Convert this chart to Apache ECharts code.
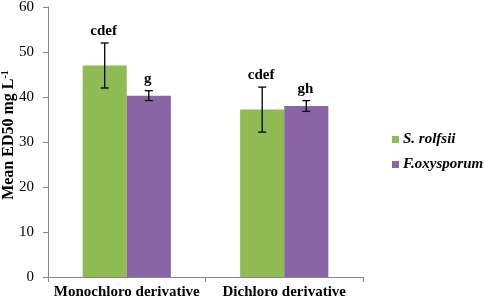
<!DOCTYPE html>
<html>
<head>
<meta charset="utf-8">
<script src="https://cdn.jsdelivr.net/npm/echarts@6/dist/echarts.min.js"></script>
<style>
  html, body { margin: 0; padding: 0; background: #fff; }
  #main { width: 484px; height: 301px; }
</style>
</head>
<body>
<div id="main"></div>
<script>
var categories = ['Monochloro derivative', 'Dichloro derivative'];
var rolfsii = [47.0, 37.2];
var rolfsiiErr = [5.0, 5.0];
var oxysporum = [40.3, 38.0];
var oxysporumErr = [1.1, 1.2];
var rolfsiiLetters = ['cdef', 'cdef'];
var oxysporumLetters = ['g', 'gh'];
var yTicks = { min: 0, max: 60, interval: 10 };

var SERIF = '"Liberation Serif", "Times New Roman", serif';
var BAR_FRAC = 0.28;

// error bar + significance letter drawn on top of each bar
function errorBars(sign, letters) {
  return function (params, api) {
    var i = api.value(0);
    var m = api.value(1);
    var e = api.value(2);
    var band = api.size([1, 0])[0];
    var x = api.coord([i, m])[0] + sign * band * BAR_FRAC / 2;
    var top = api.coord([i, m + e])[1];
    var bot = api.coord([i, m - e])[1];
    var cap = 4;
    var st = { stroke: '#000', lineWidth: 1.3 };
    return {
      type: 'group',
      children: [
        { type: 'line', shape: { x1: x, y1: top, x2: x, y2: bot }, style: st },
        { type: 'line', shape: { x1: x - cap, y1: top, x2: x + cap, y2: top }, style: st },
        { type: 'line', shape: { x1: x - cap, y1: bot, x2: x + cap, y2: bot }, style: st },
        {
          type: 'text',
          style: {
            text: letters[i], x: x - 1, y: top - 4,
            align: 'center', verticalAlign: 'bottom',
            font: 'bold 15px ' + SERIF, fill: '#000'
          }
        }
      ]
    };
  };
}

function errData(vals, errs) {
  return vals.map(function (v, i) { return [i, v, errs[i]]; });
}

var chart = echarts.init(document.getElementById('main'), null, { renderer: 'canvas' });

chart.setOption({
  animation: false,
  grid: { left: 48, right: 121, top: 7, bottom: 24, outerBoundsMode: 'none', containLabel: false },
  legend: {
    data: ['S. rolfsii', 'F.oxysporum'],
    orient: 'vertical',
    left: 387,
    top: 127,
    icon: 'rect',
    itemWidth: 7,
    itemHeight: 7,
    itemGap: 10,
    textStyle: { fontFamily: SERIF, fontSize: 15, fontWeight: 'bold', fontStyle: 'italic', color: '#000', padding: [0, 0, 0, -1] }
  },
  xAxis: {
    type: 'category',
    data: categories,
    axisLine: { lineStyle: { color: '#888', width: 1 } },
    axisTick: { show: true, length: 5, lineStyle: { color: '#888' } },
    axisLabel: { interval: 0, fontFamily: SERIF, fontSize: 15, fontWeight: 'bold', color: '#000', margin: 8 }
  },
  yAxis: {
    type: 'value',
    min: yTicks.min,
    max: yTicks.max,
    interval: yTicks.interval,
    name: 'Mean ED50 mg L{sup|-1}',
    nameLocation: 'middle',
    nameGap: 30,
    nameMoveOverlap: false,
    nameTextStyle: {
      fontFamily: SERIF, fontSize: 16, fontWeight: 'bold', color: '#000',
      padding: [0, 0, 0, 14],
      rich: { sup: { fontFamily: SERIF, fontSize: 10, fontWeight: 'bold', color: '#000', verticalAlign: 'top', padding: [0, 0, 8, 0] } }
    },
    splitLine: { show: false },
    axisLine: { show: true, lineStyle: { color: '#888', width: 1 } },
    axisTick: { show: true, length: 5, lineStyle: { color: '#888' } },
    axisLabel: { fontFamily: SERIF, fontSize: 15, color: '#000', margin: 14 }
  },
  series: [
    {
      name: 'S. rolfsii', type: 'bar', data: rolfsii,
      barWidth: (BAR_FRAC * 100) + '%', barGap: '0%',
      itemStyle: { color: '#8fbb53' }
    },
    {
      name: 'F.oxysporum', type: 'bar', data: oxysporum,
      barWidth: (BAR_FRAC * 100) + '%', barGap: '0%',
      itemStyle: { color: '#8a65a6' }
    },
    {
      name: 'err1', type: 'custom', renderItem: errorBars(-1, rolfsiiLetters),
      data: errData(rolfsii, rolfsiiErr), encode: { x: 0, y: 1 }, z: 5, silent: true
    },
    {
      name: 'err2', type: 'custom', renderItem: errorBars(1, oxysporumLetters),
      data: errData(oxysporum, oxysporumErr), encode: { x: 0, y: 1 }, z: 5, silent: true
    }
  ]
});
</script>
</body>
</html>
